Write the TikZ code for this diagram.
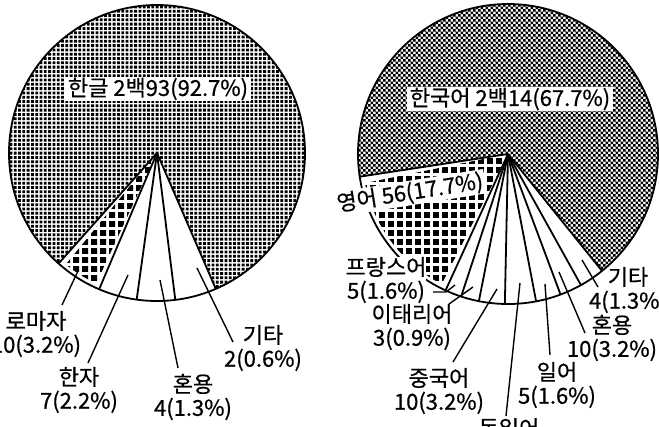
\documentclass[tikz,border=0pt]{standalone}
\usepackage{fontspec}
\setmainfont{Noto Sans CJK KR}[FakeBold=0.6]
\usetikzlibrary{patterns}
\pgfdeclarepatternformonly{cobble}{\pgfqpoint{0pt}{0pt}}{\pgfqpoint{9pt}{9pt}}{\pgfqpoint{9pt}{9pt}}{%
  \pgfpathrectangle{\pgfqpoint{1.3pt}{1.3pt}}{\pgfqpoint{6.4pt}{6.4pt}}\pgfusepath{fill}}
\begin{document}
\begin{tikzpicture}[x=1pt,y=-1pt,
  lbl/.style={font=\fontsize{22}{23.5}\selectfont, align=center, inner sep=0pt},
  big/.style={font=\fontsize{22}{23.5}\selectfont, fill=white, inner xsep=3pt, inner ysep=1pt},
  rad/.style={line width=1.8pt},
  leader/.style={line width=1.4pt},
  rim/.style={line width=1.8pt}]
\useasboundingbox (0,0) rectangle (659,426);
\fill[white] (0,0) rectangle (659,426);

% ---------- left pie ----------
\coordinate (L) at (157,153);
\begin{scope}
  \clip (L) circle[radius=148];
  \foreach \j in {0,...,69} {\fill \foreach \i in {0,...,69} {(9.5+\i*4.3, 5.5+\j*4.3) rectangle ++(2.8,2.8)};}
\end{scope}
\fill[white] (L) -- ++(66.6:148) arc[start angle=66.6,end angle=131.7,radius=148] -- cycle;
\fill[pattern=cobble] (L) -- ++(115:144) arc[start angle=115,end angle=129.3,radius=144] -- cycle;
\foreach \a in {131.7,113.0,97.9,82.9,66.6} \draw[rad] (L) -- ++(\a:148);
\draw[rim] (L) circle[radius=148];

\node[big] (hg) at (158,89) {한글 2백93(92.7\%)};
\node[lbl] (rom) at (36,334) {로마자\\10(3.2\%)};
\node[lbl] (hj) at (79,390) {한자\\7(2.2\%)};
\node[lbl] (hy1) at (193,397) {혼용\\4(1.3\%)};
\node[lbl] (gt1) at (263,348) {기타\\2(0.6\%)};

\coordinate (romA) at (78,271); \coordinate (romB) at (62,305);
\coordinate (hjA) at (128,275); \coordinate (hjB) at (88,363);
\coordinate (hyA) at (160,280); \coordinate (hyB) at (178,368);
\coordinate (gtA) at (197,268); \coordinate (gtB) at (233,342);
\draw[leader] (romA) -- (romB);
\draw[leader] (hjA) -- (hjB);
\draw[leader] (hyA) -- (hyB);
\draw[leader] (gtA) -- (gtB);

% ---------- right pie ----------
\coordinate (R) at (508,154);
\begin{scope}
  \clip (R) circle[radius=150];
  \foreach \j in {0,...,60} {\fill \foreach \i in {0,...,60}
    {(358+\i*5, 4+\j*5) rectangle ++(2.7,2.7) (360.5+\i*5, 6.5+\j*5) rectangle ++(2.7,2.7)};}
\end{scope}
\fill[white] (R) -- ++(51.2:150) arc[start angle=51.2,end angle=171.3,radius=150] -- cycle;
\fill[pattern=cobble] (R) -- ++(117:146) arc[start angle=117,end angle=168.5,radius=146] -- cycle;
\foreach \a in {171.3,114.6,108.2,101.2,91.2,79.2,69.5,60.9,51.2} \draw[rad] (R) -- ++(\a:150);
\draw[rim] (R) circle[radius=150];

\node[big] (ko) at (510,99) {한국어 2백14(67.7\%)};
\node[big, rotate=9, inner xsep=2pt] (en) at (410,193) {영어 56(17.7\%)};
\node[lbl, fill=white] (fr) at (386,280) {프랑스어\\5(1.6\%)};
\node[lbl] (it) at (412,327) {이태리어\\3(0.9\%)};
\node[lbl] (cn) at (439,391) {중국어\\10(3.2\%)};
\node[lbl, anchor=north] (de) at (509,418) {독일어};
\node[lbl] (jp) at (557,385) {일어\\5(1.6\%)};
\node[lbl] (hy2) at (612,338) {혼용\\10(3.2\%)};
\node[lbl] (gt2) at (628,290) {기타\\4(1.3\%)};

\coordinate (frA) at (433,292); \coordinate (frM) at (446,292); \coordinate (frB) at (455,285);
\coordinate (itA) at (449,304); \coordinate (itB) at (473,287);
\coordinate (cnA) at (453,362); \coordinate (cnB) at (497,289);
\coordinate (deA) at (506,416); \coordinate (deB) at (520,283);
\coordinate (jpA) at (550,355); \coordinate (jpB) at (545,284);
\coordinate (hyC) at (585,333); \coordinate (hyD) at (559,272);
\coordinate (gtC) at (598,287); \coordinate (gtD) at (582,260);
\draw[leader] (frA) -- (frM) -- (frB);
\draw[leader] (itA) -- (itB);
\draw[leader] (cnA) -- (cnB);
\draw[leader] (deA) -- (deB);
\draw[leader] (jpA) -- (jpB);
\draw[leader] (hyC) -- (hyD);
\draw[leader] (gtC) -- (gtD);
\end{tikzpicture}
\end{document}
